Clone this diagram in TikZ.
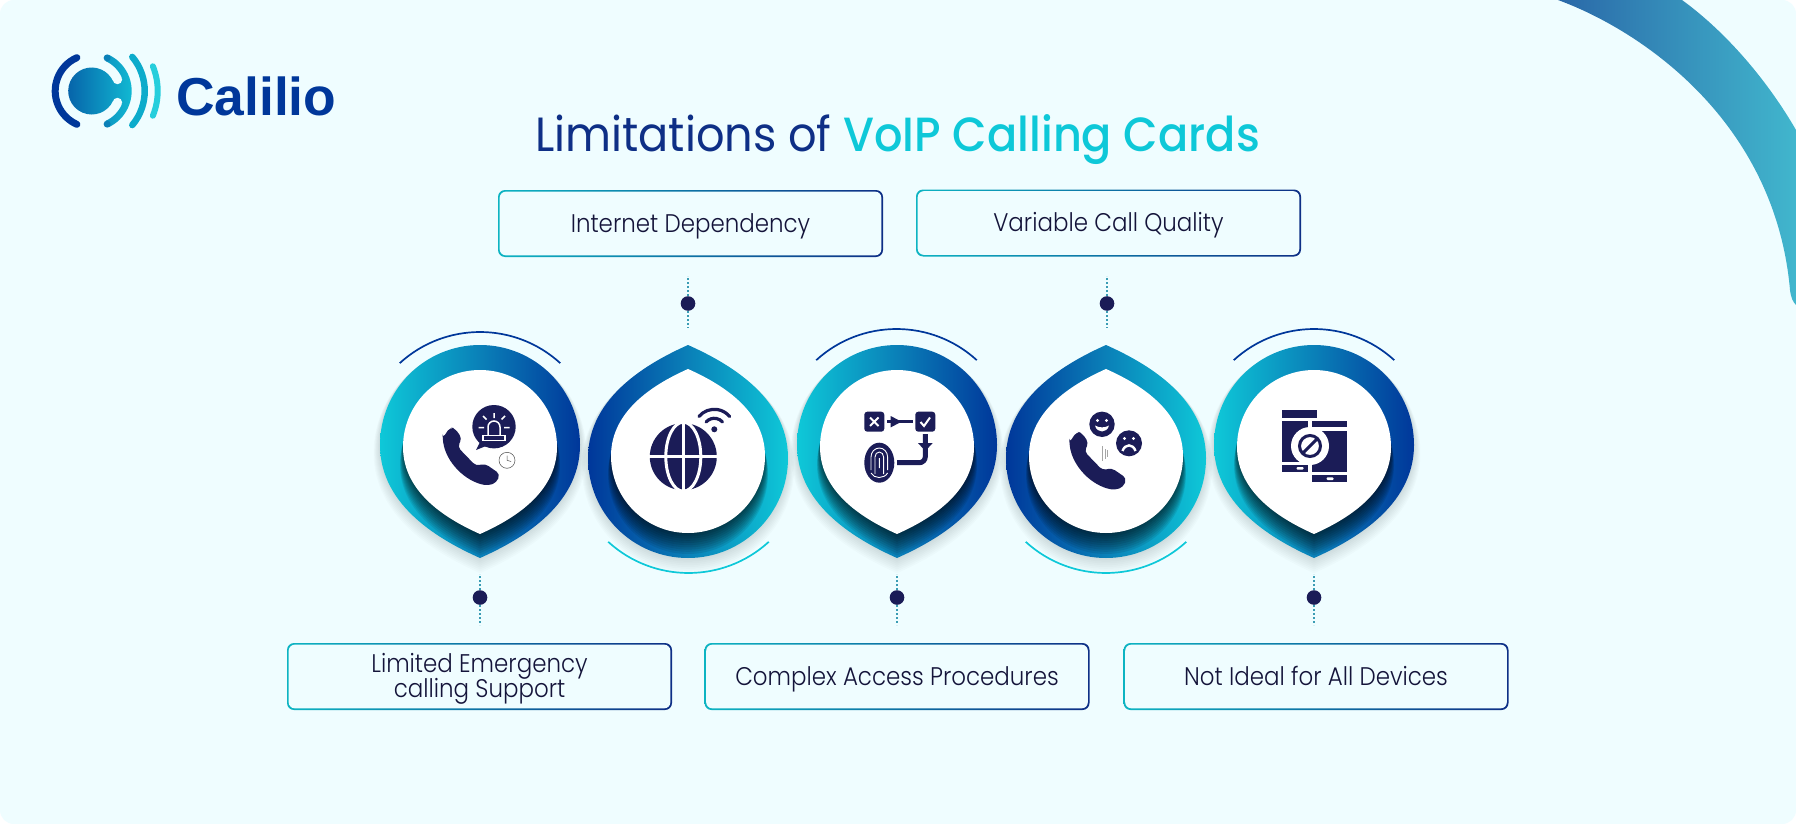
\documentclass[tikz,border=0pt]{standalone}
\usepackage{fontspec}
\setmainfont[FakeStretch=.9]{Poppins Light}
\newfontfamily\logofont{Liberation Sans}
\newfontfamily\titlefont[FakeStretch=.93]{Poppins}
\newfontfamily\titlefontb[FakeStretch=.93]{Poppins Medium}
\definecolor{bgpale}{HTML}{EFFDFF}
\definecolor{navy}{HTML}{00379A}
\definecolor{midblue}{HTML}{0A80B8}
\definecolor{teal}{HTML}{0EC8D8}
\definecolor{inkblue}{HTML}{1B1C57}
\definecolor{titleblue}{HTML}{0E2F86}
\definecolor{textink}{HTML}{14143A}
\definecolor{dashteal}{HTML}{3A9CB4}
\definecolor{bandleft}{HTML}{2A68A8}
\definecolor{bandright}{HTML}{41B6CD}
\definecolor{ballleft}{HTML}{0660A8}
\definecolor{ballright}{HTML}{12C0D6}
\newcommand{\lbl}[1]{\rule{0pt}{17pt}\smash{#1}}
\newcommand{\petalpath}{(-100,0) arc (180:360:100) .. controls (100,62) and (38,96) .. (0,113) .. controls (-38,96) and (-100,62) .. (-100,0) -- cycle}
\newcommand{\handset}{(-2,30) -- (20,-3) -- (35,0) -- (56,30) -- (43,56) -- (98,113) -- (125,106) -- (170,137) -- (160,163) -- (135,172) .. controls (66,160) and (8,102) .. (-2,30)}
% #1 x, #2 y, #3 tip (1 down, -1 up), #4 left colour, #5 right colour
\newcommand{\petal}[5]{%
\foreach \i in {1,...,8}
  \fill[black,opacity=.016,shift={(#1,#2+\i)},yscale=#3,scale={1+\i*.008}] \petalpath;
\shade[left color=#4,right color=#5,middle color=midblue,shift={(#1,#2)},yscale=#3] \petalpath;
\begin{scope}
\clip[shift={(#1,#2)},yscale=#3] \petalpath;
\foreach \i in {1,...,10}
  \fill[black,opacity=.085,shift={(#1,#2+2*#3+\i*1.8)},yscale=#3,scale={.76+\i*.004}] \petalpath;
\end{scope}
\fill[white,shift={(#1,#2+2*#3)},yscale=#3,scale=.77] \petalpath;
}
\tikzset{
  boxedge/.style={rectangle,rounded corners=7pt,minimum width=385pt,minimum height=67pt,inner sep=0pt,left color=teal!90!black,right color=titleblue},
  boxtext/.style={rectangle,rounded corners=6pt,minimum width=381.6pt,minimum height=63.6pt,inner sep=0pt,fill=bgpale,text=textink,align=center,font=\fontsize{25.5}{25}\selectfont},
  dot node/.style={circle,fill=inkblue,minimum size=14.6pt,inner sep=0pt},
  dash line/.style={draw=dashteal,line width=1.2pt,dash pattern=on 2pt off 2pt},
  cap top/.style={draw=navy,line width=1.7pt},
  cap low/.style={draw=teal,line width=1.7pt},
  icon line/.style={draw=inkblue,line cap=round},
}
\begin{document}
\begin{tikzpicture}[x=1pt,y=-1pt]
\useasboundingbox (0,0) rectangle (1796,824);
\fill[white] (0,0) rectangle (1796,824);
\begin{scope}
\clip[rounded corners=14pt] (0,0) rectangle (1796,824);
\fill[bgpale] (0,0) rectangle (1796,824);
% corner band
\shade[left color=bandleft,right color=bandright]
  (1558,0) .. controls (1640,30) and (1775,120) .. (1790,290) .. controls (1791,298) and (1793,302) .. (1796,305) -- (1796,130) .. controls (1770,85) and (1730,35) .. (1682,0) -- cycle;
\end{scope}

% logo
\begin{scope}[shift={(91.7,91)},yscale=-1]
\shade[left color=ballleft,right color=ballright]
  (65:40) arc (65:-65:40) -- (-65:33) arc (-65:-24:33) -- (-24:23.5) arc (-24:-336:23.5) -- (24:33) arc (24:65:33) -- cycle;
\fill[bgpale] (24:28.2) circle (4.7);
\fill[bgpale] (-24:28.2) circle (4.7);
\fill[midblue] (65:36.5) circle (3.5);
\fill[midblue] (-65:36.5) circle (3.5);
\draw[navy,line width=7pt,line cap=round] (114:36.5) arc (114:246:36.5);
\draw[teal!60!midblue,line width=6.5pt,line cap=round] (40:53) arc (40:-40:53);
\draw[teal!90!white,line width=6pt,line cap=round] (22:66) arc (22:-22:66);
\end{scope}
\node[anchor=base west,inner sep=0pt,text=navy,font=\logofont\bfseries\fontsize{53.4}{53.4}\selectfont] (logo) at (176,116) {Calilio};

\node[anchor=base,inner sep=0pt,font=\fontsize{48}{48}\selectfont] (title) at (897.5,151) {\textcolor{titleblue}{\titlefont Limitations of} \textcolor{teal}{\titlefontb VoIP Calling Cards}};

% petals
\petal{480}{445}{1}{teal}{navy}
\petal{688}{458}{-1}{navy}{teal}
\petal{897}{445}{1}{teal}{navy}
\petal{1106}{458}{-1}{navy}{teal}
\petal{1314}{445}{1}{teal}{navy}

% caps
\draw[cap top] (480,451) ++(227.6:119) arc (227.6:312.4:119);
\draw[cap top] (896.5,448) ++(227.6:119) arc (227.6:312.4:119);
\draw[cap top] (1314,448) ++(227.6:119) arc (227.6:312.4:119);
\draw[cap low] (688.5,454) ++(132.4:119) arc (132.4:47.6:119);
\draw[cap low] (1106,454) ++(132.4:119) arc (132.4:47.6:119);

% boxes
\node[boxedge] (b1) at (479.5,676.5) {};
\node[boxtext] (t1) at (b1) {\lbl{Limited Emergency}\\\lbl{calling Support}};
\node[boxedge] (b2) at (690.5,223.5) {};
\node[boxtext] (t2) at (b2) {\lbl{Internet Dependency}};
\node[boxedge] (b3) at (897,676.5) {};
\node[boxtext] (t3) at (b3) {\lbl{Complex Access Procedures}};
\node[boxedge] (b4) at (1108.5,223) {};
\node[boxtext] (t4) at (b4) {\lbl{Variable Call Quality}};
\node[boxedge] (b5) at (1316,676.5) {};
\node[boxtext] (t5) at (b5) {\lbl{Not Ideal for All Devices}};

% dots
\node[dot node] (d1) at (480,597.5) {};
\node[dot node] (d2) at (688,303.5) {};
\node[dot node] (d3) at (897,597.5) {};
\node[dot node] (d4) at (1107,303.5) {};
\node[dot node] (d5) at (1314,597.5) {};
\coordinate (e1a) at (480,574);
\coordinate (e1b) at (480,625);
\coordinate (e2a) at (688,276);
\coordinate (e2b) at (688,328);
\coordinate (e3a) at (897,574);
\coordinate (e3b) at (897,625);
\coordinate (e4a) at (1107,276);
\coordinate (e4b) at (1107,328);
\coordinate (e5a) at (1314,574);
\coordinate (e5b) at (1314,625);
\foreach \n in {1,...,5} {
  \draw[dash line] (d\n) -- (e\n a);
  \draw[dash line] (d\n) -- (e\n b);
}

% icon 1
\fill[inkblue,rounded corners=4pt,shift={(443.3,428.3)},scale=.333] \handset -- cycle;
\fill[inkblue] (494,426.7) circle (21.7);
\fill[inkblue] (480,442) -- (476,450) -- (486,446) -- cycle;
\draw[white,line width=1.5pt] (488,435) -- (488,427) arc (180:360:6) -- (500,435);
\draw[white,line width=1.3pt] (483,435.5) rectangle (505,440.5);
\draw[white,line width=1.5pt] (494,413) -- (494,418) (478.5,427.7) -- (484,427.7) (504,427.7) -- (509.5,427.7) (483,416) -- (486.5,419.5) (505,416) -- (501.5,419.5);
\filldraw[fill=white,draw=gray!60!black,line width=.5pt] (507,460.3) circle (8);
\draw[gray!60!black,line width=.5pt] (507,460.3) -- (507,455.5) (507,460.3) -- (511,461.5);

% icon 2
\fill[inkblue] (683.3,456.7) circle (33.5);
\draw[white,line width=3pt] (683.3,456.7) ellipse (17.5 and 34.5);
\draw[white,line width=3pt] (683.3,422) -- (683.3,491) (649,456.7) -- (718,456.7);
\fill[white] (714.3,429.3) circle (7);
\fill[inkblue] (714.3,429.3) circle (3);
\draw[icon line,line width=3.2pt] (714.3,429.3) ++(222:11) arc (222:318:11);
\draw[icon line,line width=3.2pt] (714.3,429.3) ++(220:20) arc (220:320:20);

% icon 3
\fill[inkblue,rounded corners=3pt] (864.3,411.7) rectangle (884.3,431.7);
\fill[inkblue,rounded corners=3pt] (915.3,411.7) rectangle (935.3,431.7);
\draw[white,line width=2pt] (870,417.5) -- (878.5,426) (878.5,417.5) -- (870,426);
\draw[white,line width=2pt] (920.5,422) -- (924,426) -- (930,417.5);
\draw[inkblue,line width=2.6pt] (887.3,421.7) -- (912.7,421.7);
\fill[inkblue] (890.7,416) -- (901.5,421.7) -- (890.7,427.4) -- cycle;
\draw[inkblue,line width=5pt,rounded corners=6pt] (897,462.7) -- (925.3,462.7) -- (925.3,434);
\fill[inkblue] (918,443) -- (932.7,443) -- (925.3,451) -- cycle;
\fill[inkblue] (879.3,462.7) ellipse (15 and 20);
\draw[white,line width=.9pt] (871,470) -- (871,457) arc (180:360:8.3 and 9) -- (887.6,470);
\draw[white,line width=.9pt] (875,474) -- (875,457) arc (180:360:4.3 and 5) -- (883.6,474);
\draw[white,line width=.9pt] (879.3,458) -- (879.3,468) (871,473) .. controls (874,479) and (884,479) .. (887.6,473);

% icon 4
\fill[inkblue,rounded corners=4pt,shift={(1070,432.7)},scale=.333] \handset -- cycle;
\fill[inkblue] (1102,424.3) circle (12.7);
\fill[inkblue] (1129,443.3) circle (13);
\fill[white] (1097.5,420.5) circle (1.6) (1106.5,420.5) circle (1.6);
\fill[white] (1095,425.5) .. controls (1097,433.5) and (1107,433.5) .. (1109,425.5) .. controls (1105,428) and (1099,428) .. (1095,425.5) -- cycle;
\fill[white] (1124.5,438.5) circle (1.6) (1133.5,438.5) circle (1.6);
\draw[white,line width=2.4pt] (1122.5,451) .. controls (1125,443.5) and (1133,443.5) .. (1135.5,451);
\draw[gray!70,line width=.5pt] (1102.7,446) -- (1102.7,461) (1107,450) -- (1107,457) (1105,449) -- (1105,459);

% icon 5
\fill[inkblue] (1282,410) rectangle (1317.3,417.7);
\fill[inkblue] (1282,420.7) rectangle (1308.3,461.7);
\fill[inkblue] (1282,465) rectangle (1308.3,471.7);
\fill[inkblue] (1311.7,420.7) rectangle (1347.3,427.3);
\fill[inkblue] (1311.7,431) rectangle (1347.3,471.7);
\fill[inkblue] (1311.7,475) rectangle (1347.3,482.3);
\fill[white,rounded corners=1pt] (1296.5,467) rectangle (1303.5,469.7);
\fill[white,rounded corners=1pt] (1326.5,477.3) rectangle (1333.5,480);
\fill[white] (1310,446) circle (19);
\draw[inkblue,line width=3pt] (1310,446) circle (10.5);
\draw[inkblue,line width=3pt] (1303,453) -- (1317,439);
\end{tikzpicture}
\end{document}
